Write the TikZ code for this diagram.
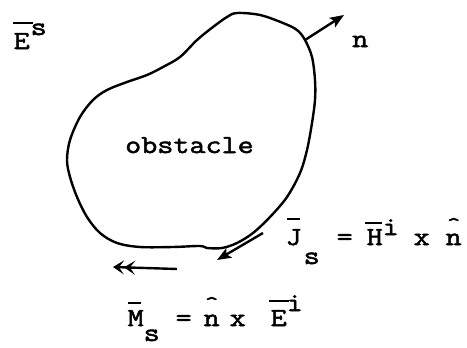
\documentclass[tikz,border=0pt]{standalone}
\usepackage{fontspec}
\setmonofont{Latin Modern Mono}[FakeStretch=1.2, FakeBold=2]
\usepackage{graphicx}
\usetikzlibrary{arrows.meta}
% place content centred at horizontal offset #1 (pt), raised by #2 (pt)
\newcommand\putat[3]{\makebox[0pt][l]{\hspace*{#1pt}\makebox[0pt]{\raisebox{#2pt}{#3}}}}
% overbar: centre #1, raise #2, width #3
\newcommand\barat[3]{\makebox[0pt][l]{\hspace*{#1pt}\makebox[0pt]{\rule[#2pt]{#3pt}{1.6pt}}}}
\newcommand\hatat[2]{\putat{#1}{#2}{\scalebox{0.8}{\char"5E}}}
\tikzset{
  tw/.style={font=\ttfamily\fontsize{26}{30}\selectfont, inner sep=0pt, anchor=base west},
  outline/.style={line width=2.4pt, line join=round},
  vec/.style={line width=2.4pt, -{Stealth[length=14pt,width=11pt,inset=3pt]}},
  dvec/.style={line width=2.4pt, -{Stealth[length=11pt,width=14pt,inset=5pt]Stealth[length=11pt,width=14pt,inset=5pt]}}
}
\begin{document}
\begin{tikzpicture}[x=1pt,y=-1pt]
\useasboundingbox (0,0) rectangle (467,348);
% obstacle outline
\draw[outline] plot[smooth cycle, tension=0.55] coordinates {
 (237,13) (260,15) (283,23) (297,30) (305,40) (312,57) (315,80) (315,100)
 (312,123) (307,150) (300,173) (287,197) (270,217) (253,233) (237,243)
 (222,248) (207,248) (200,246) (173,247) (140,247) (117,243) (100,233)
 (87,217) (77,197) (70,177) (67,160) (70,140) (80,117) (93,100) (107,90)
 (127,82) (147,75) (163,67) (180,57) (197,40) (213,27) (227,17)};
\node[tw] (obst) at (125,153) {obstacle};
% field label
\node[tw] (Es) at (0,49) {\putat{21}{0}{E}\barat{22}{25}{20}\putat{38}{14}{s}};
% normal
\coordinate (nbase) at (305,40);
\coordinate (ntip) at (344,15);
\draw[vec] (nbase) -- (ntip);
\node[tw] (nlab) at (352,47) {n};
% J_s arrow
\coordinate (jtail) at (263,233);
\coordinate (jhead) at (217,260);
\draw[vec] (jtail) -- (jhead);
% M_s arrow
\coordinate (mtail) at (177,269);
\coordinate (mhead) at (113,267);
\draw[dvec] (mtail) -- (mhead);
% J_s equation
\node[tw] (Jeq) at (280,245) {%
 \putat{13}{0}{J}\barat{13}{25}{13}\putat{31}{-19}{s}%
 \putat{64}{0}{=}%
 \putat{94}{0}{H}\barat{93}{21}{17}\putat{110}{10}{i}%
 \putat{141}{0}{x}%
 \putat{173}{0}{n}\hatat{173}{14}};
% M_s equation
\node[tw] (Meq) at (120,326) {%
 \putat{15}{0}{M}\barat{14}{22}{13}\putat{31}{-15}{s}%
 \putat{63}{0}{=}%
 \putat{91}{0}{n}\hatat{91}{16}%
 \putat{117}{0}{x}%
 \putat{158}{0}{E}\barat{158}{24}{20}\putat{174}{15}{i}};
\end{tikzpicture}
\end{document}
